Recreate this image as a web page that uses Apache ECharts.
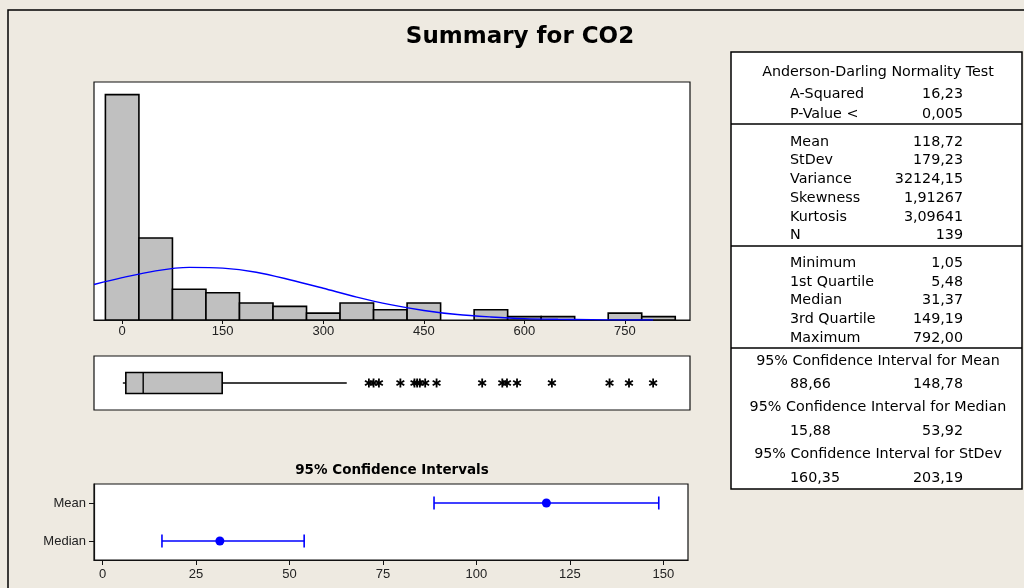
<!DOCTYPE html>
<html>
<head>
<meta charset="utf-8">
<script src="https://cdn.jsdelivr.net/npm/echarts@6/dist/echarts.min.js"></script>
<style>
html, body { margin: 0; padding: 0; background: #eeeae1; }
#main { width: 1024px; height: 588px; }
</style>
</head>
<body>
<div id="main"></div>
<script>
// histogram: bin centres (width 50) and counts
const binCenters = [0, 50, 100, 150, 200, 250, 300, 350, 400, 450, 500, 550, 600, 650, 700, 750, 800];
const binCounts = [66, 24, 9, 8, 5, 4, 2, 5, 3, 5, 0, 3, 1, 1, 0, 2, 1];
const histTicks = [0, 150, 300, 450, 600, 750];

// fitted normal curve (height in counts)
const curveX = [-42, 0, 50, 100, 150, 200, 250, 300, 350, 400, 450, 500, 550, 600, 650, 700, 750, 792];
const curveY = [10.4, 12.4, 14.4, 15.4, 15.2, 14.0, 11.8, 9.3, 6.7, 4.5, 2.8, 1.6, 0.9, 0.4, 0.2, 0.1, 0.0, 0.0];

// boxplot: low whisker, Q1, median, Q3, high whisker
const boxStats = [1.05, 5.48, 31.37, 149.19, 335];
const outliers = [368, 375, 383, 415, 436, 440, 444, 452, 469, 537, 567, 574, 589, 641, 727, 756, 792];

// 95% confidence intervals
const ciNames = ["Median", "Mean"];
const ciLow = [15.88, 88.66];
const ciEst = [31.37, 118.72];
const ciHigh = [53.92, 148.78];
const ciTicks = [0, 25, 50, 75, 100, 125, 150];

// summary table
const adTitle = "Anderson-Darling Normality Test";
const adRows = [["A-Squared", "16,23"], ["P-Value <", "0,005"]];
const momentRows = [["Mean", "118,72"], ["StDev", "179,23"], ["Variance", "32124,15"],
  ["Skewness", "1,91267"], ["Kurtosis", "3,09641"], ["N", "139"]];
const quantRows = [["Minimum", "1,05"], ["1st Quartile", "5,48"], ["Median", "31,37"],
  ["3rd Quartile", "149,19"], ["Maximum", "792,00"]];
const ciRows = [["95% Confidence Interval for Mean", "88,66", "148,78"],
  ["95% Confidence Interval for Median", "15,88", "53,92"],
  ["95% Confidence Interval for StDev", "160,35", "203,19"]];

const tableFont = '14.3px "DejaVu Sans"';
const labelX = 790, valueX = 963, centerX = 878;

function txt(text, x, y, align, font) {
  return {
    type: "text", x: x, y: y, z: 10,
    style: { text: text, fill: "#000", font: font || tableFont, textAlign: align, textVerticalAlign: "middle" }
  };
}

const graphics = [];
// outer frame
graphics.push({ type: "rect", shape: { x: 8, y: 10, width: 1200, height: 800 },
  style: { fill: "none", stroke: "#000", lineWidth: 1.5 } });
graphics.push(txt("Summary for CO2", 520, 37, "center", 'bold 23px "DejaVu Sans"'));
graphics.push(txt("95% Confidence Intervals", 392, 470, "center", 'bold 13.5px "DejaVu Sans"'));

// table
graphics.push({ type: "rect", shape: { x: 731, y: 52, width: 291, height: 437 },
  style: { fill: "#fff", stroke: "#000", lineWidth: 1.5 } });
[124, 246, 348].forEach(function (y) {
  graphics.push({ type: "line", shape: { x1: 731, y1: y, x2: 1022, y2: y }, style: { stroke: "#000", lineWidth: 1.5 } });
});
graphics.push(txt(adTitle, centerX, 72, "center"));
adRows.forEach(function (r, i) {
  graphics.push(txt(r[0], labelX, 94 + i * 20, "left"));
  graphics.push(txt(r[1], valueX, 94 + i * 20, "right"));
});
momentRows.forEach(function (r, i) {
  graphics.push(txt(r[0], labelX, 142 + i * 18.7, "left"));
  graphics.push(txt(r[1], valueX, 142 + i * 18.7, "right"));
});
quantRows.forEach(function (r, i) {
  graphics.push(txt(r[0], labelX, 263 + i * 18.8, "left"));
  graphics.push(txt(r[1], valueX, 263 + i * 18.8, "right"));
});
ciRows.forEach(function (r, i) {
  const y = 361 + i * 46.7;
  graphics.push(txt(r[0], centerX, y, "center"));
  graphics.push(txt(r[1], labelX, y + 23.5, "left"));
  graphics.push(txt(r[2], valueX, y + 23.5, "right"));
});

const labelStyle = { color: "#222", fontFamily: "Liberation Sans", fontSize: 13 };

const option = {
  backgroundColor: "#eeeae1",
  animation: false,
  graphic: graphics,
  grid: [
    { left: 94, top: 82, width: 596, height: 238, show: true, backgroundColor: "#fff", borderColor: "#111", borderWidth: 1.2 },
    { left: 94, top: 356, width: 596, height: 54, show: true, backgroundColor: "#fff", borderColor: "#111", borderWidth: 1.2 },
    { left: 94, top: 484, width: 594, height: 76, show: true, backgroundColor: "#fff", borderColor: "#111", borderWidth: 1.2 }
  ],
  xAxis: [
    {
      gridIndex: 0, type: "value", min: -42, max: 847,
      splitLine: { show: false },
      axisLine: { show: true, onZero: false, lineStyle: { color: "#111", width: 1.2 } },
      axisTick: { show: true, customValues: histTicks, length: 4, lineStyle: { color: "#111" } },
      axisLabel: { customValues: histTicks, margin: 5, ...labelStyle }
    },
    {
      gridIndex: 1, type: "value", min: -42, max: 847, show: false, splitLine: { show: false }
    },
    {
      gridIndex: 2, type: "value", min: -2.3, max: 156.6,
      splitLine: { show: false },
      axisLine: { show: true, onZero: false, lineStyle: { color: "#111", width: 1.2 } },
      axisTick: { show: true, customValues: ciTicks, length: 5, lineStyle: { color: "#111" } },
      axisLabel: { customValues: ciTicks, margin: 8, ...labelStyle }
    }
  ],
  yAxis: [
    { gridIndex: 0, type: "value", min: 0, max: 69.7, show: false, splitLine: { show: false } },
    { gridIndex: 1, type: "category", data: [""], show: false },
    {
      gridIndex: 2, type: "category", data: ciNames, position: "left",
      axisLine: { show: true, onZero: false, lineStyle: { color: "#111", width: 1.2 } },
      axisTick: { show: true, alignWithLabel: true, length: 5, lineStyle: { color: "#111" } },
      axisLabel: { margin: 8, ...labelStyle }
    }
  ],
  series: [
    {
      type: "custom", xAxisIndex: 0, yAxisIndex: 0, clip: true,
      data: binCenters.map(function (c, i) { return [c, binCounts[i]]; }),
      renderItem: function (params, api) {
        const c = api.value(0), n = api.value(1);
        if (!n) return null;
        const p0 = api.coord([c - 25, n]);
        const p1 = api.coord([c + 25, 0]);
        return {
          type: "rect",
          shape: { x: p0[0], y: p0[1], width: p1[0] - p0[0], height: p1[1] - p0[1] },
          style: { fill: "#c0c0c0", stroke: "#000", lineWidth: 1.6 }
        };
      }
    },
    {
      type: "line", xAxisIndex: 0, yAxisIndex: 0, smooth: 0.3, showSymbol: false, z: 5,
      lineStyle: { color: "#0000ff", width: 1.4 },
      data: curveX.map(function (x, i) { return [x, curveY[i]]; })
    },
    {
      type: "custom", xAxisIndex: 1, yAxisIndex: 1,
      encode: { y: 0, x: [1, 2, 3, 4, 5] },
      data: [[0].concat(boxStats)],
      renderItem: function (params, api) {
        const lo = api.coord([api.value(1), 0]);
        const q1 = api.coord([api.value(2), 0]);
        const md = api.coord([api.value(3), 0]);
        const q3 = api.coord([api.value(4), 0]);
        const hi = api.coord([api.value(5), 0]);
        const h = 10.5;
        const s = { stroke: "#000", lineWidth: 1.4 };
        return {
          type: "group", children: [
            { type: "line", shape: { x1: lo[0], y1: lo[1], x2: q1[0], y2: q1[1] }, style: s },
            { type: "line", shape: { x1: q3[0], y1: q3[1], x2: hi[0], y2: hi[1] }, style: s },
            { type: "rect", shape: { x: q1[0], y: q1[1] - h, width: q3[0] - q1[0], height: 2 * h },
              style: { fill: "#c0c0c0", stroke: "#000", lineWidth: 1.6 } },
            { type: "line", shape: { x1: md[0], y1: md[1] - h, x2: md[0], y2: md[1] + h }, style: s }
          ]
        };
      }
    },
    {
      type: "custom", xAxisIndex: 1, yAxisIndex: 1,
      encode: { x: 0, y: 1 },
      data: outliers.map(function (v) { return [v, 0]; }),
      renderItem: function (params, api) {
        const p = api.coord([api.value(0), 0]);
        const r = 4.5;
        return {
          type: "group",
          children: [0, 60, 120].map(function (a) {
            const t = a * Math.PI / 180;
            return {
              type: "line",
              shape: { x1: p[0] - r * Math.sin(t), y1: p[1] - r * Math.cos(t), x2: p[0] + r * Math.sin(t), y2: p[1] + r * Math.cos(t) },
              style: { stroke: "#000", lineWidth: 1.8 }
            };
          })
        };
      }
    },
    {
      type: "custom", xAxisIndex: 2, yAxisIndex: 2,
      encode: { y: 0, x: [1, 2] },
      data: ciNames.map(function (n, i) { return [i, ciLow[i], ciHigh[i]]; }),
      renderItem: function (params, api) {
        const a = api.coord([api.value(1), api.value(0)]);
        const b = api.coord([api.value(2), api.value(0)]);
        const h = 6.5;
        const s = { stroke: "#0000ff", lineWidth: 1.6 };
        return {
          type: "group", children: [
            { type: "line", shape: { x1: a[0], y1: a[1], x2: b[0], y2: b[1] }, style: s },
            { type: "line", shape: { x1: a[0], y1: a[1] - h, x2: a[0], y2: a[1] + h }, style: s },
            { type: "line", shape: { x1: b[0], y1: b[1] - h, x2: b[0], y2: b[1] + h }, style: s }
          ]
        };
      }
    },
    {
      type: "scatter", xAxisIndex: 2, yAxisIndex: 2, symbolSize: 9, z: 6,
      itemStyle: { color: "#0000ff", opacity: 1 },
      data: ciNames.map(function (n, i) { return [ciEst[i], n]; })
    }
  ]
};

const myChart = echarts.init(document.getElementById("main"), null, { renderer: "canvas" });
myChart.setOption(option);
</script>
</body>
</html>
